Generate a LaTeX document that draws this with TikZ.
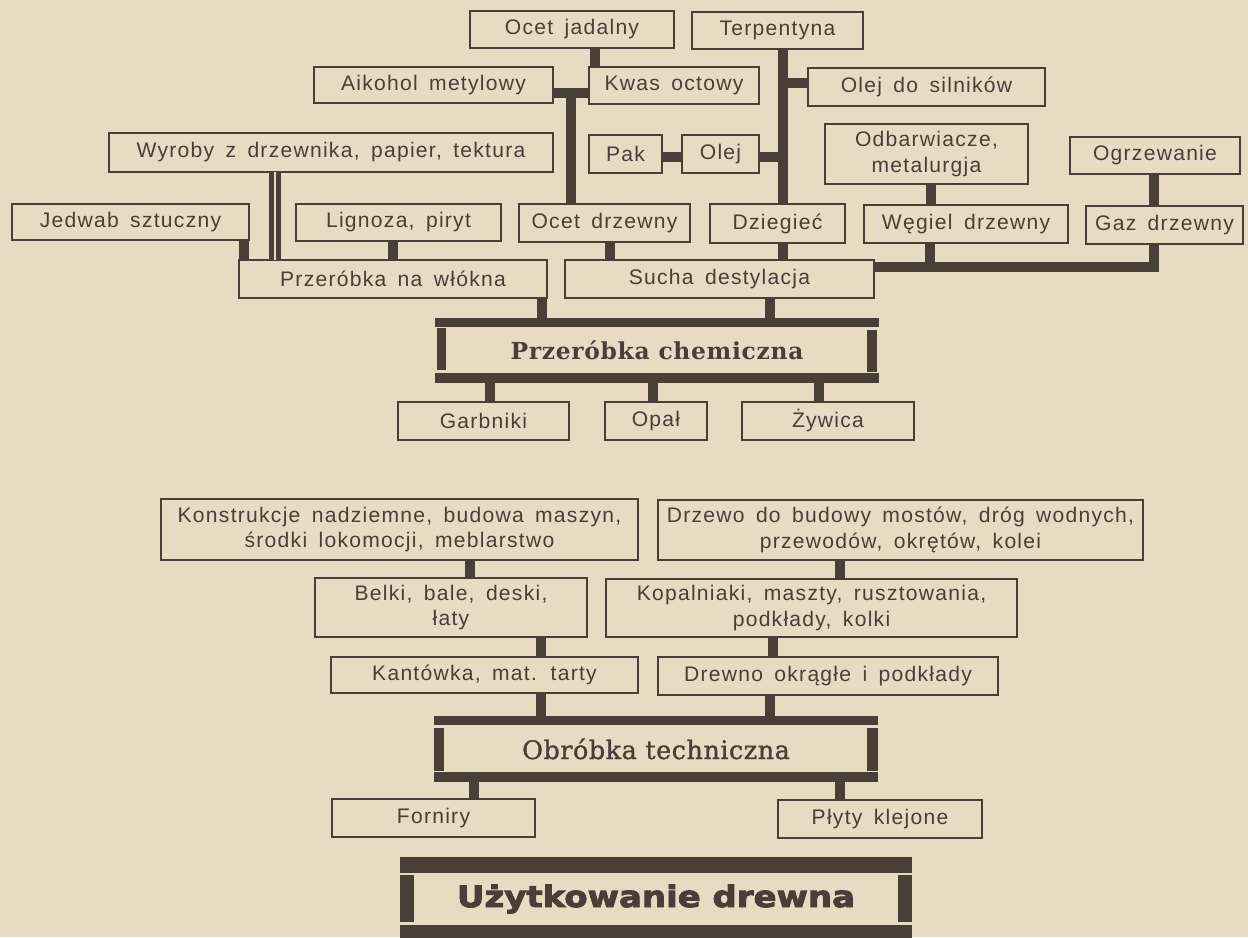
\documentclass[tikz,border=0pt]{standalone}
\usepackage{fontspec}
\setmainfont{Liberation Sans}[LetterSpace=6,WordSpace=1.6]
\newfontfamily\serifhead{DejaVu Serif}[LetterSpace=3]
\newfontfamily\serifmid{DejaVu Serif}[LetterSpace=2,FakeBold=1.2]
\newfontfamily\heavyfont{DejaVu Sans}[FakeStretch=1.15,FakeBold=3]
\definecolor{paper}{RGB}{230,220,195}
\definecolor{ink}{RGB}{72,64,55}
\newcommand{\bx}[6]{\node[box, minimum width={(#4-#2)*0.02cm}, minimum height={(#5-#3)*0.02cm}] (#1) at ({(#2+#4)/2},{(#3+#5)/2}) {#6};}
\newcommand{\vconn}[3]{\coordinate (k#3) at (#3,0); \draw[conn] (#1.south -| k#3) -- (#2.north -| k#3);}
\tikzset{
  box/.style={draw=ink, line width=1.1pt, inner sep=0pt, outer sep=0pt, align=center,
     text=ink, font=\fontsize{12}{14.5}\selectfont},
  conn/.style={draw=ink, line width=5.5pt, line cap=butt},
  heavybox/.style={inner sep=0pt, outer sep=0pt, text=ink},
}
\begin{document}
\begin{tikzpicture}[x=0.02cm, y=-0.02cm]
\fill[paper] (0,0) rectangle (1248,937);
\useasboundingbox (0,0) rectangle (1248,937);

% upper part
\bx{ocetj}{470}{11}{674}{48}{Ocet jadalny}
\bx{terp}{692}{12}{863}{49}{Terpentyna}
\bx{aik}{314}{67}{553}{103}{Aikohol metylowy}
\bx{kwas}{589}{67}{759}{104}{Kwas octowy}
\bx{olejs}{808}{68}{1045}{106}{Olej do silników}
\bx{wyr}{109}{133}{553}{172}{Wyroby z drzewnika, papier, tektura}
\bx{pak}{589}{135}{662}{173}{Pak}
\bx{olej}{682}{135}{759}{173}{Olej}
\bx{odb}{825}{124}{1028}{184}{Odbarwiacze,\\metalurgja}
\bx{ogrz}{1070}{137}{1240}{174}{Ogrzewanie}
\bx{jedw}{12}{204}{249}{240}{Jedwab sztuczny}
\bx{lign}{296}{204}{501}{241}{Lignoza, piryt}
\bx{ocetd}{519}{204}{690}{242}{Ocet drzewny}
\bx{dzieg}{710}{204}{845}{243}{Dziegieć}
\bx{weg}{864}{205}{1068}{243}{Węgiel drzewny}
\bx{gaz}{1086}{206}{1243}{244}{Gaz drzewny}
\bx{pnw}{239}{260}{547}{298}{Przeróbka na włókna}
\bx{sucha}{565}{260}{874}{298}{Sucha destylacja}

\node[heavybox, minimum width={444*0.02cm}, minimum height={65*0.02cm},
  font=\serifhead\bfseries\fontsize{13.3}{15}\selectfont] (chem) at (657,350.5) {Przeróbka chemiczna};
\fill[ink] (chem.north west) rectangle ([yshift=-0.18cm]chem.north east);
\fill[ink] (chem.south west) rectangle ([yshift=0.2cm]chem.south east);
\fill[ink] ([xshift=0.04cm,yshift=-0.2cm]chem.north west) rectangle ([xshift=0.22cm,yshift=0.26cm]chem.south west);
\fill[ink] ([xshift=-0.04cm,yshift=-0.24cm]chem.north east) rectangle ([xshift=-0.24cm,yshift=0.22cm]chem.south east);

\bx{garb}{398}{402}{569}{440}{Garbniki}
\bx{opal}{605}{402}{707}{440}{Opał}
\bx{zyw}{742}{402}{914}{440}{Żywica}

% connectors upper part
\vconn{ocetj}{kwas}{595}
\coordinate (ja) at (571,93);
\draw[conn] (aik.east |- ja) -- (kwas.west |- ja);
\draw[conn] (ja) -- (ocetd.north -| ja);
\vconn{terp}{dzieg}{783}
\coordinate (jb) at (783,83);
\draw[conn] (jb) -- (olejs.west |- jb);
\coordinate (jc) at (783,157);
\draw[conn] (olej.east |- jc) -- (jc);
\draw[conn] (pak.east |- jc) -- (olej.west |- jc);
\vconn{odb}{weg}{931}
\vconn{ogrz}{gaz}{1154}
\coordinate (jd) at (1154,267);
\coordinate (je) at (1154,272);
\draw[conn] (sucha.east |- jd) -- (jd);
\draw[conn] (gaz.south -| je) -- (je);
\coordinate (jf) at (930,262);
\draw[conn] (weg.south -| jf) -- (jf);
\vconn{dzieg}{sucha}{783}
\vconn{ocetd}{sucha}{610}
\vconn{lign}{pnw}{393}
\vconn{jedw}{pnw}{244}
\coordinate (jg) at (275,0);
\draw[draw=ink, line width=2.6pt, double=paper, double distance=1.6pt] (wyr.south -| jg) -- (pnw.north -| jg);
\vconn{pnw}{chem}{542}
\vconn{sucha}{chem}{770}
\vconn{chem}{garb}{490}
\vconn{chem}{opal}{653}
\vconn{chem}{zyw}{819}

% lower part
\bx{konst}{161}{499}{638}{560}{Konstrukcje nadziemne, budowa maszyn,\\środki lokomocji, meblarstwo}
\bx{drzewo}{658}{500}{1143}{560}{Drzewo do budowy mostów, dróg wodnych,\\przewodów, okrętów, kolei}
\bx{belki}{315}{578}{587}{637}{Belki, bale, deski,\\łaty}
\bx{kopal}{606}{579}{1017}{637}{Kopalniaki, maszty, rusztowania,\\podkłady, kolki}
\bx{kant}{331}{657}{638}{693}{Kantówka, mat. tarty}
\bx{drewno}{658}{657}{998}{695}{Drewno okrągłe i podkłady}

\node[heavybox, minimum width={444*0.02cm}, minimum height={66*0.02cm},
  font=\serifmid\fontsize{14.5}{17}\selectfont] (obr) at (656,749) {Obróbka techniczna};
\fill[ink] (obr.north west) rectangle ([yshift=-0.18cm]obr.north east);
\fill[ink] (obr.south west) rectangle ([yshift=0.2cm]obr.south east);
\fill[ink] ([yshift=-0.24cm]obr.north west) rectangle ([xshift=0.2cm,yshift=0.22cm]obr.south west);
\fill[ink] ([yshift=-0.24cm]obr.north east) rectangle ([xshift=-0.22cm,yshift=0.22cm]obr.south east);

\bx{forn}{332}{799}{535}{837}{Forniry}
\bx{plyty}{778}{800}{982}{838}{Płyty klejone}

\node[heavybox, minimum width={512*0.02cm}, minimum height={84*0.02cm},
  font=\heavyfont\bfseries\fontsize{16.8}{18}\selectfont] (uzyt) at (656,899) {Użytkowanie drewna};
\fill[ink] (uzyt.north west) rectangle ([yshift=-0.32cm]uzyt.north east);
\fill[ink] (uzyt.south west) rectangle ([yshift=0.32cm]uzyt.south east);
\fill[ink] ([yshift=-0.36cm]uzyt.north west) rectangle ([xshift=0.28cm,yshift=0.38cm]uzyt.south west);
\fill[ink] ([yshift=-0.36cm]uzyt.north east) rectangle ([xshift=-0.28cm,yshift=0.38cm]uzyt.south east);

% connectors lower part
\vconn{konst}{belki}{470}
\vconn{drzewo}{kopal}{840}
\vconn{belki}{kant}{541}
\vconn{kopal}{drewno}{773}
\vconn{kant}{obr}{541}
\vconn{drewno}{obr}{770}
\vconn{obr}{forn}{474}
\vconn{obr}{plyty}{840}
\end{tikzpicture}
\end{document}
